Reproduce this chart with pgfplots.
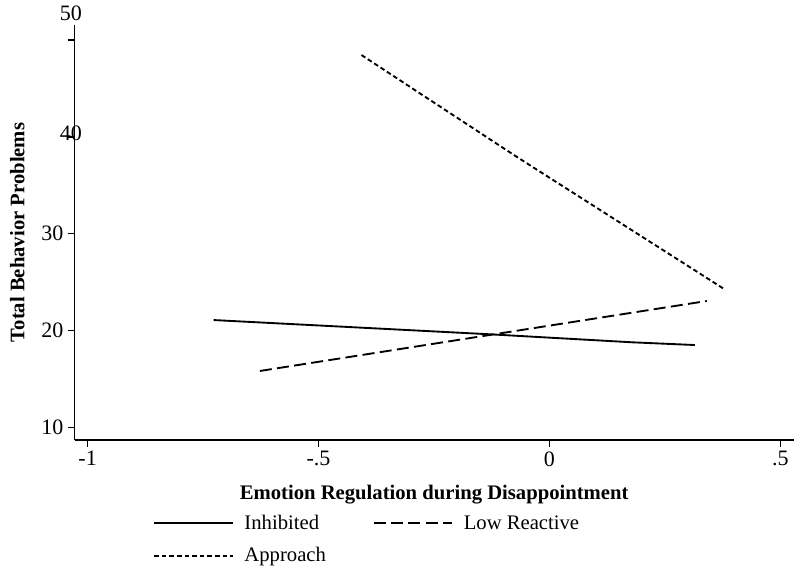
\documentclass[border=0pt]{standalone}
\usepackage{fontspec}
\setmainfont{Liberation Serif}
\usepackage{pgfplots}
\pgfplotsset{compat=1.18}

\begin{document}
\begin{tikzpicture}[font=\fontsize{15.5pt}{18pt}\selectfont]
\useasboundingbox (-56pt,-100.5pt) rectangle (544pt,330pt);
\begin{axis}[
  at={(0,0)}, anchor=south west,
  scale only axis, width=539.25pt, height=311.25pt,
  xmin=-1.028, xmax=0.529, ymin=8.69, ymax=51.56,
  axis lines*=left,
  axis line style={line width=1.1pt},
  tick style={line width=1pt, black},
  tick align=outside, major tick length=5pt,
  xtick={-1,-0.5,0,0.5}, xticklabels={-1,-.5,0,.5},
  ytick={10,20,30,40,50}, yticklabels={10,20,30,{},{}},
  tick label style={font=\fontsize{16.5pt}{19pt}\selectfont},
  /pgf/number format/assume math mode=true,
  clip=false,
  xlabel={\bfseries Emotion Regulation during Disappointment},
  ylabel={\bfseries Total Behavior Problems},
  every axis x label/.style={at={(axis description cs:0.5,-0.1326)}, anchor=center},
  every axis y label/.style={at={(axis description cs:-0.0798,0.5)}, rotate=90, anchor=center},
  legend columns=2,
  legend cell align=left,
  legend style={at={(axis description cs:0.1034,-0.1675)}, anchor=north west,
    draw=none, fill=none, row sep=8pt,
    /tikz/every even column/.append style={column sep=33pt}},
  legend image code/.code={\draw[#1] (0pt,0pt) -- (59pt,0pt); \path (65pt,0pt);},
]
% Inhibited
\addplot [black, line width=1.4pt] coordinates {
(-0.727,21.08) (-0.129,19.61) (0.180,18.78) (0.315,18.50)
};
\addlegendentry{Inhibited}
% Low Reactive
\addplot [black, line width=1.4pt, dash pattern=on 9pt off 4pt] coordinates {
(-0.627,15.82) (0.341,23.05)
};
\addlegendentry{Low Reactive}
% Approach
\addplot [black, line width=1.4pt, dash pattern=on 3.5pt off 2.2pt] coordinates {
(-0.407,48.46) (-0.071,37.95) (0.376,24.36)
};
\addlegendentry{Approach}
\node[font=\fontsize{16.5pt}{19pt}\selectfont] at (axis cs:-1.036,40.4) {40};
\node[font=\fontsize{16.5pt}{19pt}\selectfont] at (axis cs:-1.036,52.8) {50};
\end{axis}
\end{tikzpicture}
\end{document}
